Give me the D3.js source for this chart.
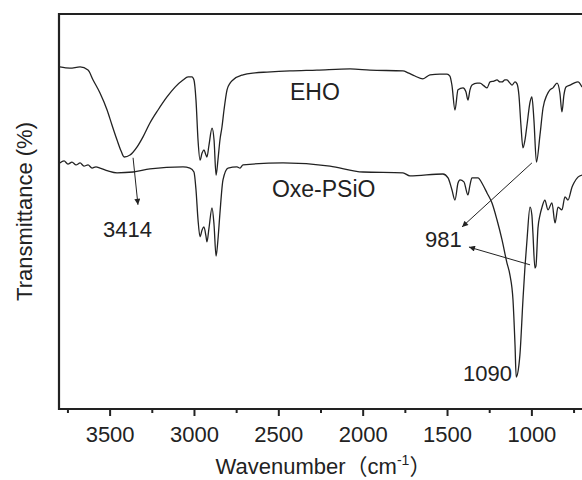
<!DOCTYPE html>
<html>
<head>
<meta charset="utf-8">
<script src="https://cdn.jsdelivr.net/npm/d3@7"></script>
<style>
  body { margin: 0; background: #fff; }
  svg { display: block; font-family: "Liberation Sans", Arial, sans-serif; }
</style>
</head>
<body>
<svg id="chart" width="582" height="480"></svg>
<script>
// EHO spectrum (wavenumber, transmittance in arbitrary %)
const ehoWn = [3795, 3735, 3675, 3628, 3598, 3557, 3515, 3486, 3456, 3432, 3414, 3379, 3338, 3302, 3261, 3213, 3160, 3112, 3065, 3035, 3012, 3000, 2988, 2976, 2964, 2952, 2941, 2929, 2923, 2911, 2893, 2881, 2869, 2858, 2846, 2834, 2822, 2804, 2786, 2769, 2709, 2638, 2567, 2431, 2271, 2075, 1957, 1761, 1731, 1690, 1643, 1601, 1542, 1500, 1483, 1471, 1453, 1435, 1405, 1388, 1376, 1364, 1352, 1322, 1305, 1281, 1263, 1245, 1222, 1204, 1186, 1174, 1157, 1145, 1127, 1115, 1097, 1085, 1074, 1062, 1050, 1038, 1026, 1008, 997, 985, 970, 949, 931, 908, 890, 872, 848, 831, 819, 807, 795, 771, 748, 724, 700];
const ehoT = [86.6, 86.3, 86.6, 85.8, 83.3, 80.0, 75.7, 71.9, 68.1, 65.3, 63.8, 64.3, 66.3, 68.9, 72.4, 75.7, 79.0, 81.5, 83.3, 84.1, 84.1, 83.3, 78.2, 68.1, 63.0, 64.8, 65.6, 64.3, 63.8, 66.8, 71.1, 68.1, 59.2, 63.0, 68.1, 71.4, 75.7, 80.8, 82.5, 83.3, 84.6, 85.1, 85.3, 85.6, 85.8, 86.1, 85.8, 85.6, 85.1, 84.3, 83.6, 84.6, 84.8, 84.8, 84.3, 82.0, 75.7, 80.8, 81.3, 80.3, 78.2, 80.8, 82.0, 82.5, 82.5, 81.8, 81.3, 82.8, 83.0, 83.3, 82.8, 82.8, 83.3, 83.3, 82.5, 82.0, 82.8, 82.3, 79.5, 71.9, 66.1, 68.1, 71.9, 77.7, 79.0, 73.2, 62.5, 69.4, 76.2, 79.5, 80.8, 81.3, 82.5, 80.0, 75.2, 79.5, 81.5, 82.0, 82.5, 82.8, 81.5];

// Oxe-PSiO spectrum
const oxeWn = [3795, 3770, 3747, 3723, 3699, 3675, 3652, 3628, 3604, 3581, 3557, 3510, 3456, 3361, 3261, 3065, 3024, 3000, 2988, 2976, 2964, 2952, 2941, 2929, 2923, 2911, 2893, 2881, 2869, 2858, 2846, 2828, 2798, 2745, 2727, 2709, 2472, 2194, 1998, 1761, 1720, 1524, 1494, 1471, 1453, 1435, 1423, 1400, 1376, 1364, 1352, 1317, 1287, 1263, 1234, 1204, 1174, 1145, 1127, 1109, 1097, 1090, 1074, 1068, 1050, 1038, 1026, 1008, 997, 991, 979, 973, 961, 949, 937, 920, 902, 878, 860, 842, 819, 801, 783, 759, 748, 724, 700];
const oxeT = [62.3, 62.8, 62.0, 62.5, 61.8, 62.3, 61.5, 61.8, 61.0, 61.3, 61.0, 60.3, 59.8, 60.0, 60.8, 61.3, 61.0, 60.0, 55.5, 47.9, 43.6, 45.3, 46.1, 43.8, 42.3, 45.8, 50.9, 46.6, 38.7, 42.8, 49.6, 58.0, 61.0, 61.3, 61.0, 61.8, 62.3, 61.5, 60.0, 59.8, 59.0, 59.5, 58.5, 55.5, 52.9, 57.2, 58.0, 57.5, 54.2, 56.7, 58.5, 58.5, 56.7, 54.7, 52.2, 47.9, 42.8, 37.0, 33.9, 27.6, 16.2, 8.1, 11.1, 13.7, 27.6, 36.0, 42.8, 51.1, 49.1, 44.6, 35.7, 36.2, 45.8, 49.1, 51.1, 52.9, 50.4, 52.2, 47.1, 51.1, 50.4, 53.7, 52.9, 56.2, 57.2, 58.7, 59.2];

const majorTicks = [3500, 3000, 2500, 2000, 1500, 1000];
const minorTicks = [3750, 3250, 2750, 2250, 1750, 1250, 750];

// peak labels: text, wavenumber, transmittance
const labelText = ["EHO", "Oxe-PSiO", "3414", "981", "1090"];
const labelWn = [2431, 2538, 3539, 1631, 1405];
const labelT = [78.2, 53.7, 43.6, 41.0, 7.1];

// arrows: from (wn, T) to (wn, T)
const arrowFrom = [[3361, 63.6], [997, 62.3], [1008, 36.5]];
const arrowTo = [[3332, 51.7], [1411, 46.1], [1370, 41.0]];

const svg = d3.select("#chart");
const mLeft = 59, mTop = 14, mRight = 582, mBottom = 409;

const x = d3.scaleLinear().domain([3800, 700]).range([mLeft, mRight]);
const y = d3.scaleLinear().domain([0, 100]).range([mBottom, mTop]);

const defs = svg.append("defs");
defs.append("clipPath").attr("id", "clip")
  .append("rect").attr("x", mLeft).attr("y", mTop)
  .attr("width", mRight - mLeft + 10).attr("height", mBottom - mTop);

defs.append("marker")
  .attr("id", "head").attr("viewBox", "0 0 10 10")
  .attr("refX", 10).attr("refY", 5)
  .attr("markerWidth", 9).attr("markerHeight", 6)
  .attr("markerUnits", "userSpaceOnUse")
  .attr("orient", "auto")
  .append("path").attr("d", "M0,0 L10,5 L0,10 Z").attr("fill", "#222");

const line = d3.line()
  .x(d => x(d[0]))
  .y(d => y(d[1]))
  .curve(d3.curveMonotoneX);

const plot = svg.append("g").attr("clip-path", "url(#clip)");

plot.append("path")
  .datum(d3.zip(ehoWn, ehoT))
  .attr("d", line)
  .attr("fill", "none").attr("stroke", "#222").attr("stroke-width", 1.3);

plot.append("path")
  .datum(d3.zip(oxeWn, oxeT))
  .attr("d", line)
  .attr("fill", "none").attr("stroke", "#222").attr("stroke-width", 1.3);

// frame (right side runs off the picture)
svg.append("path")
  .attr("d", `M${mRight + 5},${mTop} H${mLeft} V${mBottom} H${mRight + 5}`)
  .attr("fill", "none").attr("stroke", "#222").attr("stroke-width", 2.2);

// bottom axis
const axMajor = d3.axisBottom(x).tickValues(majorTicks).tickSize(7).tickPadding(10)
  .tickFormat(d3.format("d")).tickSizeOuter(0);
const axMinor = d3.axisBottom(x).tickValues(minorTicks).tickSize(4).tickFormat("").tickSizeOuter(0);

const gMinor = svg.append("g").attr("transform", `translate(0,${mBottom})`).call(axMinor);
const gMajor = svg.append("g").attr("transform", `translate(0,${mBottom})`).call(axMajor);
[gMinor, gMajor].forEach(g => {
  g.select(".domain").remove();
  g.selectAll("line").attr("stroke", "#222").attr("stroke-width", 2);
  g.selectAll("text").attr("font-size", 22).attr("fill", "#222")
    .attr("font-family", "Liberation Sans, Arial, sans-serif");
});

// axis titles
const xt = svg.append("text")
  .attr("x", (mLeft + mRight) / 2 + 3).attr("y", 474)
  .attr("text-anchor", "middle").attr("font-size", 22).attr("fill", "#222");
xt.append("tspan").text("Wavenumber");
xt.append("tspan").attr("font-family", "Noto Sans CJK SC").text("（");
xt.append("tspan").text("cm");
xt.append("tspan").attr("font-size", 14).attr("dy", -9).text("-1");
xt.append("tspan").attr("dy", 9).attr("font-family", "Noto Sans CJK SC").text("）");

svg.append("text")
  .attr("transform", `translate(32,${(mTop + mBottom) / 2}) rotate(-90)`)
  .attr("text-anchor", "middle").attr("font-size", 22).attr("fill", "#222")
  .text("Transmittance (%)");

// labels
svg.append("g").selectAll("text")
  .data(labelText)
  .join("text")
  .attr("x", (d, i) => x(labelWn[i]))
  .attr("y", (d, i) => y(labelT[i]))
  .attr("font-size", (d, i) => i < 2 ? 23 : 22)
  .attr("fill", "#222")
  .text(d => d);

// arrows
svg.append("g").selectAll("line")
  .data(arrowFrom)
  .join("line")
  .attr("x1", d => x(d[0])).attr("y1", d => y(d[1]))
  .attr("x2", (d, i) => x(arrowTo[i][0])).attr("y2", (d, i) => y(arrowTo[i][1]))
  .attr("stroke", "#222").attr("stroke-width", 1)
  .attr("marker-end", "url(#head)");
</script>
</body>
</html>
